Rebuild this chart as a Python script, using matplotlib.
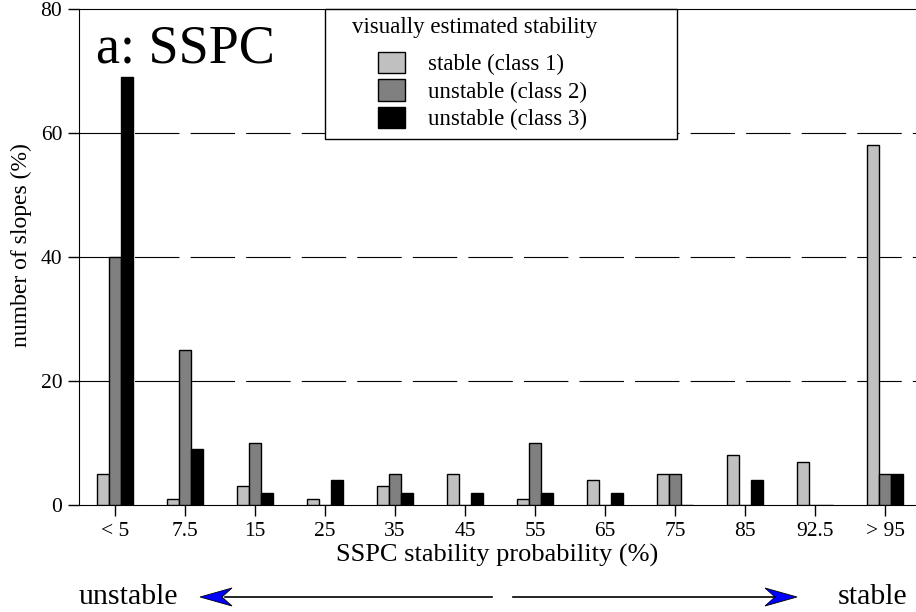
import numpy as np
import matplotlib
matplotlib.use("Agg")
from matplotlib import pyplot as plt
from matplotlib.patches import Polygon, Rectangle
from matplotlib.lines import Line2D

plt.rcParams['font.family'] = ['Liberation Serif', 'DejaVu Serif']

# data
categories = ["< 5", "7.5", "15", "25", "35", "45", "55", "65", "75", "85", "92.5", "> 95"]
class1 = [5, 1, 3, 1, 3, 5, 1, 4, 5, 8, 7, 58]
class2 = [40, 25, 10, 0, 5, 0, 10, 0, 5, 0, 0, 5]
class3 = [69, 9, 2, 4, 2, 2, 2, 2, 0, 4, 0, 5]
labels = ["stable (class 1)", "unstable (class 2)", "unstable (class 3)"]
colors = ["#c0c0c0", "#808080", "#000000"]

W, H = 916, 612
fig = plt.figure(figsize=(W / 100, H / 100), dpi=100)
ax = fig.add_axes([79 / W, 1 - 505 / H, 1 - 79 / W, 496 / H])

x = np.arange(len(categories))
w = 0.17
handles = []
for k, (vals, lab, col) in enumerate(zip([class1, class2, class3], labels, colors)):
    b = ax.bar(x + (k - 1) * w, vals, width=w, color=col, edgecolor="black",
               linewidth=1.0, label=lab, zorder=3)
    handles.append(b)

# dashed grid lines
for yv in [20, 40, 60]:
    ax.axhline(yv, color="black", linewidth=0.8, dashes=(40, 10), zorder=1)

ax.set_xlim(-0.514, 11.44)
ax.set_ylim(0, 80)
ax.set_yticks([0, 20, 40, 60, 80])
ax.set_xticks(x)
ax.set_xticklabels(categories)
ax.tick_params(axis="both", labelsize=15.5, direction="out", length=8, width=1, pad=4)
ax.spines["right"].set_visible(False)
ax.set_ylabel("number of slopes (%)", fontsize=17)
ax.yaxis.set_label_coords(-0.056, 0.525)
ax.set_xlabel("SSPC stability probability (%)", fontsize=19, labelpad=2)

ax.text(0.02, 0.918, "a: SSPC", transform=ax.transAxes, fontsize=39,
        ha="left", va="center")

# legend: box, title and entries
fig.add_artist(Rectangle((325 / W, 1 - 139 / H), 352 / W, 130 / H,
                         transform=fig.transFigure, facecolor="white",
                         edgecolor="black", linewidth=1.0, zorder=4))
fig.text(352 / W, 1 - 27 / H, "visually estimated stability", fontsize=16.5,
         ha="left", va="center", zorder=6)
leg = fig.legend(handles, labels, loc="upper left",
                 bbox_to_anchor=(378 / W, 1 - 52 / H),
                 fontsize=16.5, frameon=False, handlelength=1.18, handleheight=1.05,
                 labelspacing=0.17, borderpad=0, handletextpad=1.0, borderaxespad=0)
leg.set_zorder(5)

# bottom arrows and labels
ya = 597
fig.text(79 / W, 1 - ya / H, "unstable", fontsize=21.5, ha="left", va="center")
fig.text(907 / W, 1 - ya / H, "stable", fontsize=21.5, ha="right", va="center")

def px(xp, yp):
    return (xp / W, 1 - yp / H)

for x0, x1, tip, back, notch in [(492, 225, 200, 232, 222), (513, 775, 797, 765, 775)]:
    fig.add_artist(Line2D([x0 / W, x1 / W], [1 - ya / H, 1 - ya / H],
                          transform=fig.transFigure, color="black", linewidth=1.2))
    head = Polygon([px(tip, ya), px(back, ya - 9), px(notch, ya), px(back, ya + 9)],
                   closed=True, transform=fig.transFigure, facecolor="blue",
                   edgecolor="black", linewidth=0.6)
    fig.add_artist(head)

fig.savefig("out.png", dpi=100)
